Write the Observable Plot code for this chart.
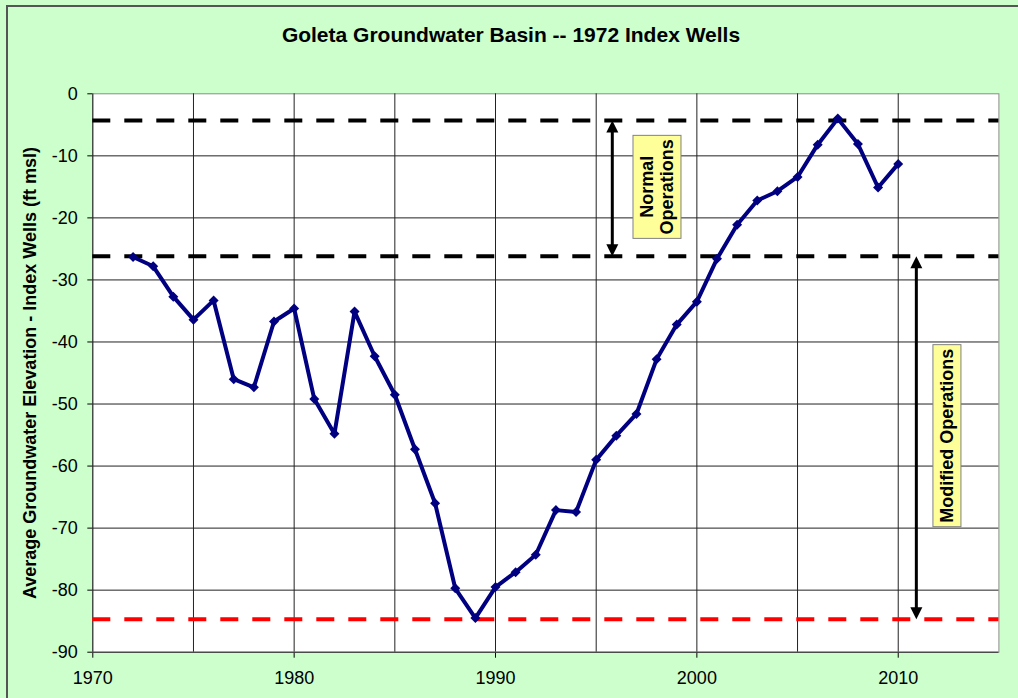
<!DOCTYPE html>
<html>
<head>
<meta charset="utf-8">
<script src="https://cdn.jsdelivr.net/npm/d3@7"></script>
<script src="https://cdn.jsdelivr.net/npm/@observablehq/plot@0.6"></script>
<style>
html, body { margin: 0; padding: 0; background: #CCFFCC; }
#wrap { position: relative; width: 1018px; height: 698px; overflow: hidden; font-family: "Liberation Sans", Arial, sans-serif; }
#title { height: 70px; line-height: 70px; text-align: center; font-weight: bold; font-size: 21px; color: #000; padding-left: 4px; box-sizing: border-box; }
#border { position: absolute; left: 6px; top: 5px; width: 2000px; height: 2000px; border-top: 2px solid #555; border-left: 2px solid #555; pointer-events: none; }
#chart svg { display: block; }
</style>
</head>
<body>
<div id="wrap">
  <div id="title">Goleta Groundwater Basin -- 1972 Index Wells</div>
  <div id="chart"></div>
  <div id="border"></div>
</div>
<script>
// ---- data ----
const years = [1972, 1973, 1974, 1975, 1976, 1977, 1978, 1979, 1980, 1981, 1982, 1983, 1984, 1985, 1986, 1987, 1988, 1989, 1990, 1991, 1992, 1993, 1994, 1995, 1996, 1997, 1998, 1999, 2000, 2001, 2002, 2003, 2004, 2005, 2006, 2007, 2008, 2009, 2010];
const elevation = [-26.3, -27.8, -32.7, -36.4, -33.3, -46.0, -47.3, -36.7, -34.6, -49.2, -54.8, -35.1, -42.3, -48.5, -57.3, -66.0, -79.7, -84.5, -79.5, -77.1, -74.3, -67.1, -67.4, -59.0, -55.1, -51.6, -42.8, -37.2, -33.5, -26.6, -21.1, -17.2, -15.7, -13.4, -8.2, -4.0, -8.1, -15.1, -11.3];

const xTickLabels = [1970, 1980, 1990, 2000, 2010];
const xGridYears = [1970, 1975, 1980, 1985, 1990, 1995, 2000, 2005, 2010];
const yTickLabels = [0, -10, -20, -30, -40, -50, -60, -70, -80, -90];
const yGridValues = [-10, -20, -30, -40, -50, -60, -70, -80, -90];

const normalBounds = [-4.3, -26.2];   // black dashed lines
const historicLow = -84.7;            // red dashed line

const normalArrowYear = 1995.8;
const modifiedArrowYear = 2010.9;
const labelTexts = ["Normal\nOperations", "Modified Operations"];
const labelYears = [1998.0, 2012.4];
const labelValues = [-15.0, -55.1];

const chartTitle = "Goleta Groundwater Basin -- 1972 Index Wells";
const yAxisTitle = "Average Groundwater Elevation - Index Wells (ft msl)";

// ---- derived tables ----
const series = years.map((year, i) => ({year, elevation: elevation[i]}));
const arrows = [
  {x: normalArrowYear, y1: normalBounds[0], y2: normalBounds[1]},
  {x: modifiedArrowYear, y1: normalBounds[1], y2: historicLow}
];
const opsLabels = labelTexts.map((text, i) => ({text, x: labelYears[i], y: labelValues[i]}));

// arrowhead symbols with the tip at the origin
const arrowUp = {draw(ctx, size) { const r = Math.sqrt(size / Math.PI); ctx.moveTo(0, 0); ctx.lineTo(-1.2 * r, 2.4 * r); ctx.lineTo(1.2 * r, 2.4 * r); ctx.closePath(); }};
const arrowDown = {draw(ctx, size) { const r = Math.sqrt(size / Math.PI); ctx.moveTo(0, 0); ctx.lineTo(-1.2 * r, -2.4 * r); ctx.lineTo(1.2 * r, -2.4 * r); ctx.closePath(); }};

const chart = Plot.plot({
  width: 1018,
  height: 628,
  marginTop: 23.3,
  marginLeft: 92.3,
  marginRight: 19.6,
  marginBottom: 46.3,
  style: {background: "transparent", color: "#000", fontFamily: "'Liberation Sans', Arial, sans-serif", fontSize: "18px"},
  x: {domain: [1970, 2015], ticks: xTickLabels, tickFormat: d => String(d), tickSize: 6, tickPadding: 13, label: null},
  y: {domain: [-90, 0], ticks: yTickLabels, tickFormat: d => String(d), tickSize: 5, tickPadding: 10, label: null},
  marks: [
    Plot.frame({fill: "white", stroke: "#8c8c8c"}),
    Plot.ruleX(xGridYears, {stroke: "#222", strokeWidth: 1}),
    Plot.ruleY(yGridValues, {stroke: "#222", strokeWidth: 1}),
    Plot.ruleY(normalBounds, {stroke: "#000", strokeWidth: 4, strokeDasharray: "18,14"}),
    Plot.ruleY([historicLow], {stroke: "#FF0000", strokeWidth: 4, strokeDasharray: "18,14"}),
    Plot.line(series, {x: "year", y: "elevation", stroke: "#000080", strokeWidth: 4}),
    Plot.dot(series, {x: "year", y: "elevation", symbol: "diamond2", r: 4.5, fill: "#000080", stroke: "none"}),
    Plot.ruleX(arrows, {x: "x", y1: "y1", y2: "y2", stroke: "#000", strokeWidth: 3, insetTop: 8, insetBottom: 8}),
    Plot.dot(arrows, {x: "x", y: "y1", symbol: arrowUp, r: 5, fill: "#000", stroke: "none"}),
    Plot.dot(arrows, {x: "x", y: "y2", symbol: arrowDown, r: 5, fill: "#000", stroke: "none"}),
    Plot.text(opsLabels, {x: "x", y: "y", text: "text", rotate: -90, fontSize: 18, fontWeight: "bold", lineHeight: 1.11, fill: "#000"}),
    Plot.text([yAxisTitle], {frameAnchor: "left", text: d => d, textAnchor: "middle", rotate: -90, dx: -62.3, fontSize: 18, fontWeight: "bold", fill: "#000"})
  ]
});

document.getElementById("chart").appendChild(chart);

// yellow boxes behind the operation labels
const ns = "http://www.w3.org/2000/svg";
chart.querySelectorAll("text").forEach(t => {
  if (!/Operations/.test(t.textContent)) return;
  const b = t.getBBox();
  const padAlong = 4, padAcross = 4;
  const r = document.createElementNS(ns, "rect");
  r.setAttribute("x", b.x - padAlong);
  r.setAttribute("y", b.y - padAcross);
  r.setAttribute("width", b.width + 2 * padAlong);
  r.setAttribute("height", b.height + 2 * padAcross);
  r.setAttribute("fill", "#FFFF99");
  r.setAttribute("stroke", "#808080");
  r.setAttribute("stroke-width", 1);
  if (t.getAttribute("transform")) r.setAttribute("transform", t.getAttribute("transform"));
  t.parentNode.insertBefore(r, t);
});
</script>
</body>
</html>
